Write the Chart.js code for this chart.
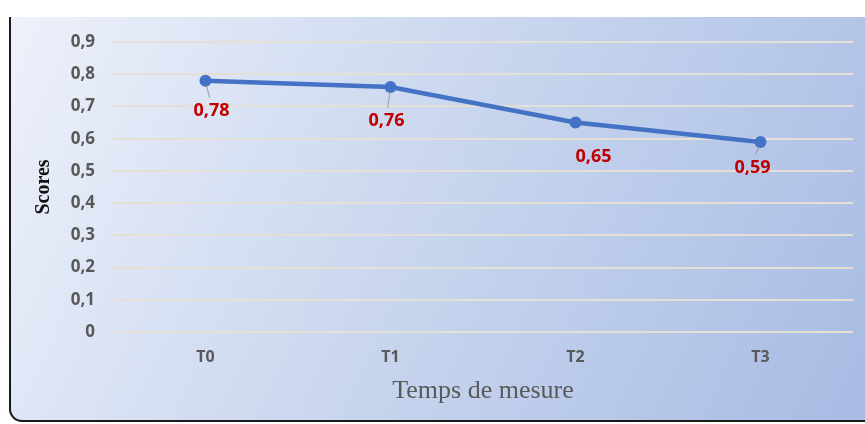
<!DOCTYPE html>
<html>
<head>
<meta charset="utf-8">
<script src="https://cdn.jsdelivr.net/npm/chart.js@4.4.1/dist/chart.umd.min.js"></script>
<style>
  html, body { margin: 0; padding: 0; background: #fff; }
  #wrap { width: 865px; height: 424px; position: relative; }
</style>
</head>
<body>
<div id="wrap"><canvas id="scoreChart"></canvas></div>
<script>
// donnees
const categories = ['T0', 'T1', 'T2', 'T3'];
const scores = [0.78, 0.76, 0.65, 0.59];
const yTicks = [0, 0.1, 0.2, 0.3, 0.4, 0.5, 0.6, 0.7, 0.8, 0.9];

// decalage des etiquettes (dx, dy) et trait de rappel
const labelOffsets = [[6, 30, true], [-4, 34, true], [18, 34, false], [-8, 26, true]];

const fmtTick = v => v === 0 ? '0' : v.toFixed(1).replace('.', ',');
const fmtVal = v => v.toFixed(2).replace('.', ',');

// fond en degrade + bordure arrondie
const panelBg = {
    id: 'panelBg',
    beforeDraw(chart) {
        const ctx = chart.ctx;
        const W = chart.width, H = chart.height;
        ctx.save();
        ctx.fillStyle = '#ffffff';
        ctx.fillRect(0, 0, W, H);
        const g = ctx.createLinearGradient(10, 17, W, H);
        g.addColorStop(0, '#edf1fa');
        g.addColorStop(0.5, '#c8d5ee');
        g.addColorStop(1, '#a7bbe3');
        ctx.fillStyle = g;
        ctx.beginPath();
        ctx.moveTo(10, 17);
        ctx.lineTo(W, 17);
        ctx.lineTo(W, 421);
        ctx.lineTo(22, 421);
        ctx.arcTo(10, 421, 10, 409, 12);
        ctx.closePath();
        ctx.fill();
        ctx.strokeStyle = '#1a1a1a';
        ctx.lineWidth = 2;
        ctx.beginPath();
        ctx.moveTo(10, 17);
        ctx.lineTo(10, 409);
        ctx.arcTo(10, 421, 22, 421, 12);
        ctx.lineTo(W, 421);
        ctx.stroke();
        ctx.restore();
    }
};

// etiquettes rouges
const valueLabels = {
    id: 'valueLabels',
    afterDatasetsDraw(chart) {
        const ctx = chart.ctx;
        const meta = chart.getDatasetMeta(0);
        ctx.save();
        meta.data.forEach((pt, i) => {
            const [dx, dy, lead] = labelOffsets[i];
            const lx = pt.x + dx, ly = pt.y + dy;
            if (lead) {
                ctx.strokeStyle = '#9a9a9a';
                ctx.lineWidth = 1;
                ctx.beginPath();
                ctx.moveTo(pt.x + dx * 0.15, pt.y + 5);
                ctx.lineTo(pt.x + dx * 0.7, ly - 13);
                ctx.stroke();
            }
            ctx.fillStyle = '#c00000';
            ctx.font = 'bold 18px "Open Sans"';
            ctx.textAlign = 'center';
            ctx.textBaseline = 'middle';
            ctx.fillText(fmtVal(scores[i]), lx, ly);
        });
        ctx.restore();
    }
};

const ctx = document.getElementById('scoreChart').getContext('2d');
const scoreChart = new Chart(ctx, {
    type: 'line',
    data: {
        labels: categories,
        datasets: [{
            label: 'Scores',
            data: scores,
            borderColor: '#4472c4',
            backgroundColor: '#4472c4',
            borderWidth: 4.5,
            pointRadius: 6,
            pointBorderWidth: 0,
            pointHoverRadius: 6,
            tension: 0
        }]
    },
    options: {
        responsive: true,
        maintainAspectRatio: false,
        animation: false,
        layout: { padding: { left: 28, top: 42, right: 12, bottom: 13 } },
        plugins: { legend: { display: false }, tooltip: { enabled: false } },
        scales: {
            x: {
                offset: true,
                grid: { display: false, drawTicks: false },
                border: { display: false },
                ticks: { color: '#595959', font: { family: 'Open Sans', weight: 'bold', size: 16 }, padding: 16 },
                title: {
                    display: true,
                    text: 'Temps de mesure',
                    color: '#595959',
                    font: { family: 'Liberation Serif', size: 26 },
                    padding: { top: 10 }
                },
                afterFit: s => { s.height = 79; }
            },
            y: {
                min: 0,
                max: 0.9,
                afterBuildTicks: s => { s.ticks = yTicks.map(v => ({ value: v })); },
                grid: { color: '#e4e0d6', lineWidth: 2, drawTicks: false },
                border: { display: false },
                ticks: {
                    color: '#595959',
                    font: { family: 'Open Sans', weight: 'bold', size: 17 },
                    padding: 18,
                    callback: v => fmtTick(v)
                },
                title: {
                    display: true,
                    text: 'Scores',
                    color: '#111',
                    font: { family: 'Liberation Serif', weight: 'bold', size: 20 },
                    padding: { bottom: 0 }
                },
                afterFit: s => { s.width = 85; }
            }
        }
    },
    plugins: [panelBg, valueLabels]
});
</script>
</body>
</html>
